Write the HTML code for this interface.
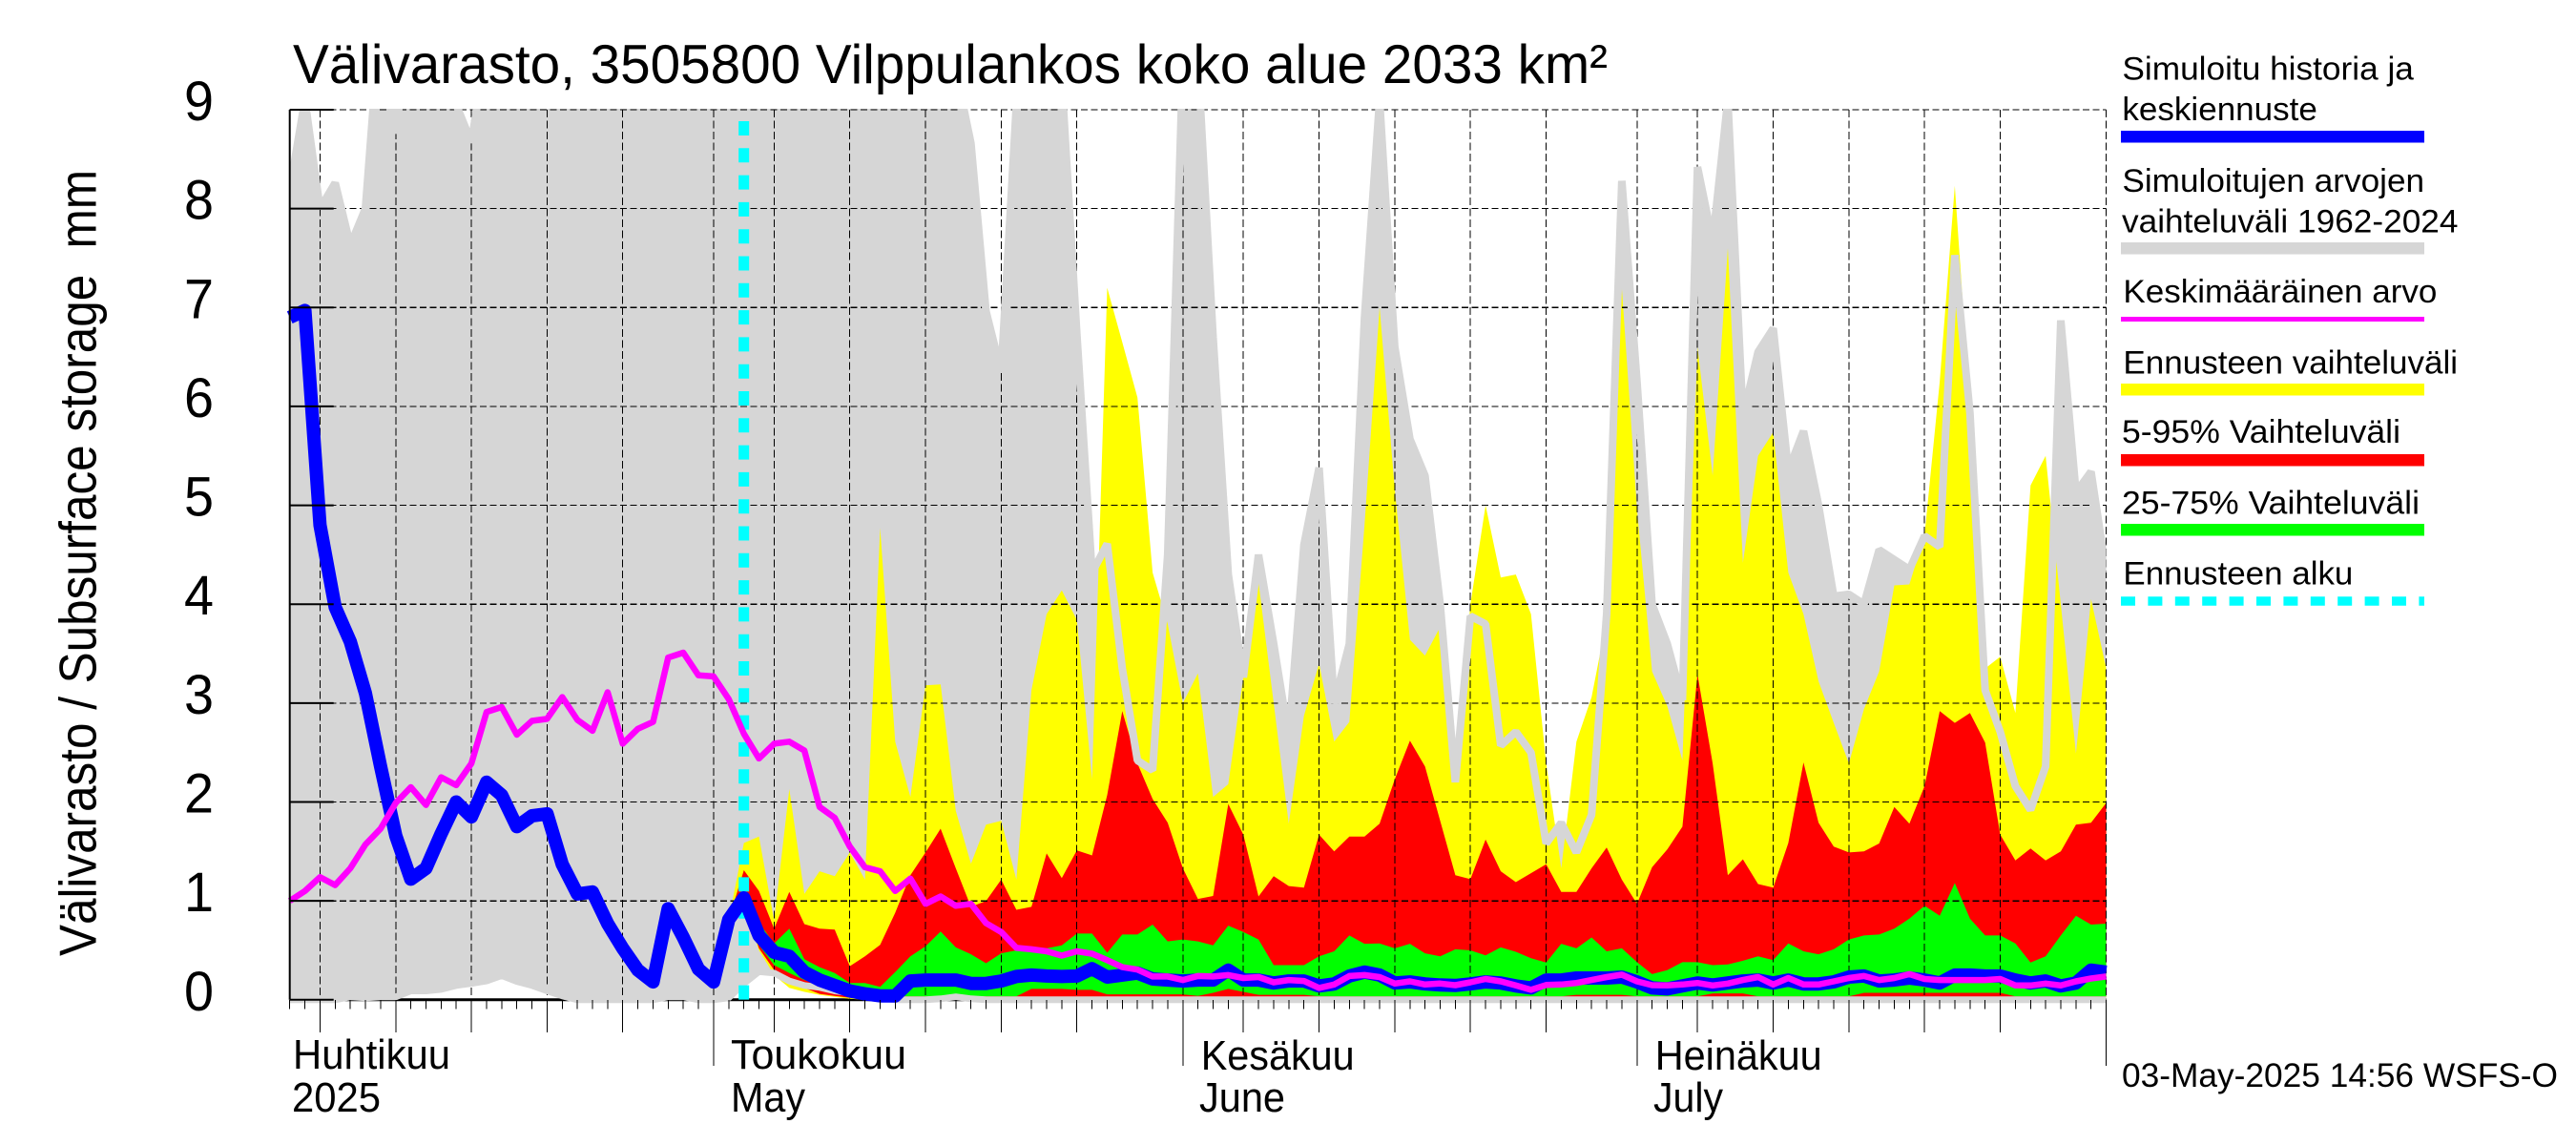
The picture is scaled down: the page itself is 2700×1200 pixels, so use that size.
<!DOCTYPE html>
<html lang="fi">
<head>
<meta charset="utf-8">
<title>Välivarasto 3505800</title>
<style>
html,body{margin:0;padding:0;background:#fff;}
svg{display:block;font-family:"Liberation Sans",Arial,sans-serif;}
text{fill:#000;}
</style>
</head>
<body>
<svg id="chart" xmlns="http://www.w3.org/2000/svg" width="2700" height="1200" viewBox="0 0 2700 1200">
  <rect x="0" y="0" width="2700" height="1200" fill="#fff"/>
  <defs>
    <clipPath id="plot-clip"><rect x="303.7" y="114" width="1904" height="945"/></clipPath>
  </defs>
  <g id="marks"></g>
  <g id="axes"></g>

  <text x="307" y="87" font-size="57.5" textLength="1378" lengthAdjust="spacingAndGlyphs">Välivarasto, 3505800 Vilppulankos koko alue 2033 km²</text>
  <text transform="translate(100.5,1002) rotate(-90)" font-size="55" textLength="824" lengthAdjust="spacingAndGlyphs" xml:space="preserve">Välivarasto / Subsurface storage  mm</text>

  <text x="307" y="1120" font-size="44" textLength="165" lengthAdjust="spacingAndGlyphs">Huhtikuu</text>
  <text x="306" y="1165" font-size="44" textLength="93" lengthAdjust="spacingAndGlyphs">2025</text>
  <text x="766" y="1120" font-size="44" textLength="184" lengthAdjust="spacingAndGlyphs">Toukokuu</text>
  <text x="766" y="1165" font-size="44" textLength="78" lengthAdjust="spacingAndGlyphs">May</text>
  <text x="1258.7" y="1121" font-size="44" textLength="161" lengthAdjust="spacingAndGlyphs">Kesäkuu</text>
  <text x="1257" y="1165" font-size="44" textLength="90" lengthAdjust="spacingAndGlyphs">June</text>
  <text x="1734.7" y="1121" font-size="44" textLength="175" lengthAdjust="spacingAndGlyphs">Heinäkuu</text>
  <text x="1733" y="1165" font-size="44" textLength="73" lengthAdjust="spacingAndGlyphs">July</text>

  <g font-size="34.5">
    <text x="2224.4" y="83.3" textLength="305.5" lengthAdjust="spacingAndGlyphs">Simuloitu historia ja</text>
    <text x="2224.4" y="126" textLength="204.5" lengthAdjust="spacingAndGlyphs">keskiennuste</text>
    <rect x="2223" y="137" width="318" height="12.5" fill="#0000ff"/>
    <text x="2224.4" y="200.8" textLength="316.7" lengthAdjust="spacingAndGlyphs">Simuloitujen arvojen</text>
    <text x="2224" y="243.3" textLength="352.5" lengthAdjust="spacingAndGlyphs">vaihteluväli 1962-2024</text>
    <rect x="2223" y="254" width="318" height="12.5" fill="#d6d6d6"/>
    <text x="2225.4" y="317" textLength="329" lengthAdjust="spacingAndGlyphs">Keskimääräinen arvo</text>
    <rect x="2223" y="332" width="318" height="5" fill="#ff00ff"/>
    <text x="2225.4" y="391.4" textLength="350.7" lengthAdjust="spacingAndGlyphs">Ennusteen vaihteluväli</text>
    <rect x="2223" y="402" width="318" height="12.5" fill="#ffff00"/>
    <text x="2224" y="464" textLength="292" lengthAdjust="spacingAndGlyphs">5-95% Vaihteluväli</text>
    <rect x="2223" y="476" width="318" height="12.5" fill="#ff0000"/>
    <text x="2224" y="538.7" textLength="312" lengthAdjust="spacingAndGlyphs">25-75% Vaihteluväli</text>
    <rect x="2223" y="549" width="318" height="12.5" fill="#00ff00"/>
    <text x="2225.4" y="612.4" textLength="241" lengthAdjust="spacingAndGlyphs">Ennusteen alku</text>
    <line x1="2223" y1="630" x2="2541" y2="630" stroke="#00ffff" stroke-width="9.6" stroke-dasharray="15 13.4"/>
  </g>

  <text x="2224" y="1139" font-size="35" textLength="457" lengthAdjust="spacingAndGlyphs">03-May-2025 14:56 WSFS-O</text>
</svg>

<script>
// ---- chart data (values above 9 run off the top and are estimates) ----
const firstDate = '04-03';
const lastDate = '08-01';
const forecastStartDate = '05-03';
const forecastBandFirstDate = '05-02';
const yTickLabels = ['0','1','2','3','4','5','6','7','8','9'];
const gridDates = ['04-05','04-10','04-15','04-20','04-25','05-05','05-10','05-15','05-20','05-25',
  '06-05','06-10','06-15','06-20','06-25','07-05','07-10','07-15','07-20','07-25'];
const monthDates = ['05-01','06-01','07-01','08-01'];

const rangeUpper = [
  8.19,9.1,8.0,8.26,7.63,8.0,10,8.76,10,9.5,
  9.5,9.05,8.67,9.65,9.5,9.5,9.5,9.5,9.5,9.5,
  9.5,9.5,9.5,9.5,9.5,9.5,9.5,9.5,9.5,9.5,
  9.5,9.5,9.5,9.5,9.5,9.5,9.5,9.5,9.5,9.5,
  9.5,9.5,9.5,9.5,9.4,8.66,6.96,6.35,9.05,9.5,
  9.5,9.3,6.73,4.32,4.61,3.35,2.42,2.32,4.5,9.5,
  9.5,6.7,4.3,3.26,4.5,3.6,2.65,4.6,5.38,3.0,
  3.6,6.9,9.1,6.6,5.67,5.3,4.0,2.2,3.88,3.8,
  2.57,2.71,2.5,1.58,1.79,1.49,1.87,3.9,8.28,6.25,
  4.0,3.6,3.03,8.42,7.67,9.1,5.9,6.55,6.79,5.35,
  5.75,5.0,4.08,4.1,4.0,4.55,4.45,4.35,4.69,4.58,
  7.53,5.93,3.13,2.71,2.16,1.92,2.36,6.87,5.13,5.34,4.32];
const rangeLower = [
  0,0,0,0,.03,.02,.03,.03,.09,.09,
  .105,.145,.165,.19,.245,.185,.145,.09,.04,0,
  0,0,0,0,0,.03,.03,0,0,.02,
  .165,.285,.27,.19,.145,.125,.09,.07,.05,.02,
  0,0,0,.01,.03,.01,0,0,0,0,
  0,0,0,0,0,0,0,0,0,0,
  0,0,0,0,0,0,0,0,0,0,
  0,0,0,0,0,0,0,0,0,0,
  0,0,0,0,0,0,0,0,0,0,
  0,0,0,0,0,0,0,0,0,0,
  0,0,0,0,0,0,0,0,0,0,
  0,0,0,0,0,0,0,0,0,0,0];
const meanValues = [
  1.0,1.1,1.24,1.16,1.33,1.57,1.73,1.99,2.15,1.97,
  2.25,2.17,2.39,2.91,2.96,2.68,2.82,2.84,3.06,2.83,
  2.72,3.11,2.59,2.74,2.81,3.46,3.51,3.28,3.27,3.04,
  2.69,2.44,2.59,2.61,2.52,1.95,1.84,1.55,1.34,1.3,
  1.1,1.225,.97,1.045,.95,.97,.775,.685,.525,.51,
  .49,.447,.49,.466,.4,.33,.305,.235,.235,.2,
  .24,.235,.25,.22,.23,.177,.2,.19,.12,.154,
  .24,.25,.23,.164,.186,.154,.164,.148,.177,.21,
  .186,.145,.1,.15,.154,.17,.2,.23,.254,.186,
  .148,.145,.154,.17,.145,.164,.2,.23,.154,.22,
  .154,.154,.186,.22,.24,.2,.22,.26,.21,.2,
  .2,.2,.2,.21,.145,.145,.164,.145,.186,.215,.235];
const simulatedValues = [
  6.9,6.97,4.8,3.97,3.62,3.1,2.36,1.66,1.22,1.33,
  1.68,2.0,1.85,2.2,2.07,1.75,1.86,1.88,1.37,1.07,
  1.09,.77,.52,.3,.18,.92,.63,.31,.18,.81,
  1.03,.65,.48,.44,.28,.2,.145,.09,.06,.04,
  .04,.19,.2,.2,.2,.165,.165,.19,.235,.25,
  .24,.235,.24,.315,.23,.25,.27,.21,.2,.19,
  .2,.2,.3,.2,.2,.17,.19,.19,.14,.16,
  .24,.28,.25,.17,.18,.16,.15,.145,.16,.18,
  .17,.14,.12,.2,.2,.22,.22,.22,.23,.18,
  .12,.11,.14,.17,.15,.17,.19,.2,.17,.2,
  .16,.16,.18,.23,.24,.19,.2,.22,.2,.17,
  .25,.25,.24,.24,.2,.17,.19,.14,.17,.3,.28];
const yellowUpper = [.81,
  1.585,1.65,.8,2.13,1.07,1.3,1.25,1.49,1.215,4.77,
  2.61,2.05,3.18,3.19,1.91,1.376,1.77,1.81,1.215,3.13,
  3.9,4.14,3.84,2.23,7.2,6.65,6.09,4.32,3.8,3.0,
  3.3,2.05,2.18,3.26,4.22,3.0,1.78,2.87,3.4,2.61,
  2.81,4.8,7.0,5.16,3.64,3.48,3.77,2.23,4.0,5.0,
  4.27,4.3,3.9,2.39,1.33,2.61,3.06,3.84,7.2,4.96,
  3.32,2.97,2.42,6.6,5.3,7.6,4.42,5.5,5.74,4.32,
  3.9,3.22,2.8,2.39,2.94,3.32,4.19,4.2,4.7,6.25,
  8.23,6.0,3.35,3.47,2.9,5.2,5.5,4.0,2.49,4.05,3.35];
const yellowLower = [.81,
  .95,.5,.25,.12,.08,.05,.03,.01,0,0,
  0,0,0,0,0,0,0,0,0,0,
  0,0,0,0,0,0,0,0,0,0,
  0,0,0,0,0,0,0,0,0,0,
  0,0,0,0,0,0,0,0,0,0,
  0,0,0,0,0,0,0,0,0,0,
  0,0,0,0,0,0,0,0,0,0,
  0,0,0,0,0,0,0,0,0,0,
  0,0,0,0,0,0,0,0,0,0,0];
const redUpper = [.81,
  1.31,1.1,.72,1.09,.765,.72,.71,.34,.44,.556,
  .88,1.26,1.49,1.73,1.33,.94,1.0,1.215,.91,.94,
  1.48,1.23,1.51,1.46,2.07,2.92,2.39,2.03,1.79,1.33,
  1.02,1.05,1.98,1.67,1.045,1.25,1.15,1.135,1.67,1.5,
  1.65,1.65,1.78,2.23,2.62,2.36,1.81,1.26,1.22,1.62,
  1.3,1.19,1.28,1.37,1.09,1.09,1.33,1.54,1.215,.97,
  1.34,1.52,1.75,3.29,2.39,1.26,1.42,1.17,1.135,1.585,
  2.4,1.79,1.55,1.49,1.5,1.58,1.95,1.78,2.16,2.92,
  2.8,2.9,2.6,1.67,1.41,1.53,1.41,1.5,1.77,1.79,1.99];
const redLower = [.81,
  .98,.52,.3,.2,.12,.06,.04,.02,.03,.03,
  .03,.03,.03,.03,.03,.03,.03,.03,.03,.03,
  .03,.03,.03,.03,.03,.03,.03,.03,.03,.03,
  .03,.03,.03,.03,.03,.03,.03,.03,.03,.03,
  .03,.03,.03,.03,.03,.03,.03,.03,.03,.03,
  .03,.03,.03,.03,.03,.03,.03,.03,.03,.03,
  .03,.03,.03,.03,.03,.03,.03,.03,.03,.03,
  .03,.03,.03,.03,.03,.03,.03,.03,.03,.03,
  .03,.03,.03,.03,.03,.03,.03,.03,.03,.03,.03];
const greenUpper = [.81,
  1.08,.78,.57,.72,.41,.33,.27,.17,.17,.13,
  .28,.44,.54,.69,.53,.46,.37,.47,.5,.51,
  .52,.55,.67,.67,.476,.66,.66,.76,.59,.61,
  .59,.55,.75,.685,.61,.35,.35,.35,.44,.49,
  .65,.566,.57,.52,.566,.47,.44,.51,.5,.45,
  .53,.485,.42,.376,.566,.52,.63,.49,.52,.38,
  .26,.3,.38,.38,.35,.357,.395,.44,.4,.57,
  .49,.46,.51,.61,.65,.66,.72,.82,.95,.85,
  1.18,.82,.65,.65,.57,.376,.44,.65,.85,.76,.77];
const greenLower = [.81,
  1.0,.55,.35,.27,.2,.15,.11,.08,.05,.035,
  .035,.035,.035,.035,.035,.035,.035,.035,.035,.11,
  .11,.11,.1,.1,.055,.055,.055,.055,.055,.055,
  .04,.07,.11,.08,.05,.05,.05,.05,.035,.035,
  .035,.035,.035,.035,.035,.035,.035,.035,.035,.035,
  .035,.035,.035,.035,.035,.05,.05,.05,.05,.035,
  .035,.035,.035,.035,.065,.065,.065,.035,.035,.035,
  .035,.035,.035,.035,.07,.07,.07,.07,.07,.07,
  .07,.07,.07,.07,.035,.035,.035,.035,.035,.035,.035];

// ---- axis functions ----
const plotLeft = 303.7, plotRight = 2207.6, plotTop = 115, plotBottom = 1047.8;
function dayIndex(md){
  const p = md.split('-');
  return (Date.UTC(2025, +p[0]-1, +p[1]) - Date.UTC(2025, 3, 3)) / 864e5;
}
const dayFirst = dayIndex(firstDate), dayLast = dayIndex(lastDate);
function xScale(day){ return plotLeft + (day - dayFirst) * (plotRight - plotLeft) / (dayLast - dayFirst); }
function yScale(v){ return plotBottom - v * (plotBottom - plotTop) / 9; }

const NS = 'http://www.w3.org/2000/svg';
const marks = document.getElementById('marks');
const axes = document.getElementById('axes');
function svgEl(tag, attrs, parent){
  const el = document.createElementNS(NS, tag);
  for (const k in attrs) el.setAttribute(k, attrs[k]);
  parent.appendChild(el);
  return el;
}
function linePath(values, startDay){
  return values.map((v,i) => (i ? 'L' : 'M') + xScale(startDay + i).toFixed(1) + ' ' + yScale(v).toFixed(1)).join('');
}
function areaPath(upper, lower, startDay){
  let d = linePath(upper, startDay);
  for (let i = lower.length - 1; i >= 0; i--) d += 'L' + xScale(startDay + i).toFixed(1) + ' ' + yScale(lower[i]).toFixed(1);
  return d + 'Z';
}
const bandStart = dayIndex(forecastBandFirstDate);

// historical range area
const rangeArea = svgEl('path', {d: areaPath(rangeUpper, rangeLower, 0), fill: '#d6d6d6', 'clip-path': 'url(#plot-clip)'}, marks);



// zero line, visible where the range lifts off the axis
const zeroLine = svgEl('line', {x1: xScale(dayFirst), x2: xScale(dayLast), y1: yScale(0), y2: yScale(0), stroke: '#000', 'stroke-width': 3}, marks);



// forecast bands
const yellowBand = svgEl('path', {d: areaPath(yellowUpper, yellowLower, bandStart), fill: '#ffff00'}, marks);


const redBand = svgEl('path', {d: areaPath(redUpper, redLower, bandStart), fill: '#ff0000'}, marks);


const greenBand = svgEl('path', {d: areaPath(greenUpper, greenLower, bandStart), fill: '#00ff00'}, marks);



// grid
yTickLabels.forEach(function(label){
  const v = +label;
  if (v > 0) {
    const g = svgEl('line', {x1: plotLeft, x2: plotRight, y1: yScale(v), y2: yScale(v), stroke: '#000', 'stroke-width': 1.2, 'stroke-dasharray': '7 3.5', 'shape-rendering': 'crispEdges'}, marks);
    
    
  }
});
gridDates.concat(monthDates).forEach(function(md){
  const x = xScale(dayIndex(md));
  const g = svgEl('line', {x1: x, x2: x, y1: plotTop, y2: plotBottom, stroke: '#000', 'stroke-width': 1, 'stroke-dasharray': '8 3.5', 'shape-rendering': 'crispEdges'}, marks);
  
  
});

// range envelope strokes
const rangeUpperLine = svgEl('path', {d: linePath(rangeUpper, 0), fill: 'none', stroke: '#d6d6d6', 'stroke-width': 8, 'stroke-linejoin': 'bevel', 'clip-path': 'url(#plot-clip)'}, marks);


const rangeLowerLine = svgEl('path', {d: linePath(rangeLower, 0), fill: 'none', stroke: '#d6d6d6', 'stroke-width': 7, 'stroke-linejoin': 'bevel', 'clip-path': 'url(#plot-clip)'}, marks);



// forecast start marker
const fx = xScale(dayIndex(forecastStartDate));
const startLine = svgEl('line', {x1: fx, x2: fx, y1: 127, y2: yScale(0), stroke: '#00ffff', 'stroke-width': 11, 'stroke-dasharray': '15 13.3'}, marks);



// series lines
const simLine = svgEl('path', {d: linePath(simulatedValues, 0), fill: 'none', stroke: '#0000ff', 'stroke-width': 14, 'stroke-linejoin': 'round'}, marks);


const meanLine = svgEl('path', {d: linePath(meanValues, 0), fill: 'none', stroke: '#ff00ff', 'stroke-width': 6.5, 'stroke-linejoin': 'round'}, marks);



// axes
const yAxisLine = svgEl('line', {x1: plotLeft, x2: plotLeft, y1: plotTop, y2: plotBottom, stroke: '#000', 'stroke-width': 2}, axes);


yTickLabels.forEach(function(label){
  const v = +label;
  const t = svgEl('line', {x1: plotLeft, x2: plotLeft + 46, y1: yScale(v), y2: yScale(v), stroke: '#000', 'stroke-width': 2}, axes);
  
  
  const txt = svgEl('text', {x: 193, y: yScale(v) + 11, 'font-size': 58, textLength: 31, lengthAdjust: 'spacingAndGlyphs'}, axes);
  
  
  txt.textContent = label;
});
for (let d = dayFirst; d <= dayLast; d++) {
  const x = xScale(d);
  const t = svgEl('line', {x1: x, x2: x, y1: plotBottom, y2: plotBottom + 9.5, stroke: '#000', 'stroke-width': 1, 'shape-rendering': 'crispEdges'}, axes);
  
  
}
gridDates.forEach(function(md){
  const x = xScale(dayIndex(md));
  const t = svgEl('line', {x1: x, x2: x, y1: plotBottom, y2: 1082, stroke: '#000', 'stroke-width': 1, 'shape-rendering': 'crispEdges'}, axes);
  
  
});
monthDates.forEach(function(md){
  const x = xScale(dayIndex(md));
  const t = svgEl('line', {x1: x, x2: x, y1: plotBottom, y2: 1117, stroke: '#000', 'stroke-width': 1, 'shape-rendering': 'crispEdges'}, axes);
  
  
});
</script>
</body>
</html>
